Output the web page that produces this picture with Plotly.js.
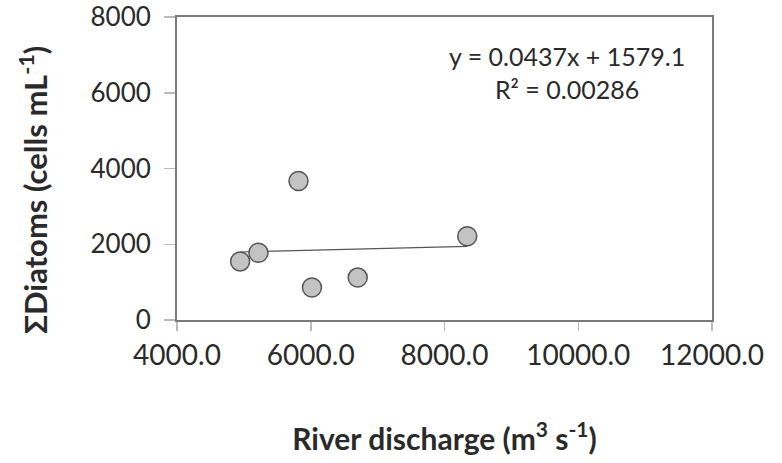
<!DOCTYPE html>
<html><head><meta charset="utf-8">
<script src="https://cdn.plot.ly/plotly-3.0.1.min.js"></script>
<style>html,body{margin:0;padding:0;background:#fff}#chart{width:782px;height:463px}</style>
</head><body><div id="chart"></div>
<script>
const discharge = [4944, 5218, 5817, 6018, 6702, 8340];
const diatoms = [1547, 1775, 3670, 857, 1119, 2210];
const trendX = [4944, 8340];
const trendY = [1795, 1943];
const xTicks = [4000, 6000, 8000, 10000, 12000];
const xTickLabels = ['4000.0', '6000.0', '8000.0', '10000.0', '12000.0'];
const yTicks = [0, 2000, 4000, 6000, 8000];
const yTickLabels = ['0', '2000', '4000', '6000', '8000'];
const equationText = 'y = 0.0437x + 1579.1<br>R² = 0.00286';
const xTitle = '<b>River discharge (m<sup>3</sup> s<sup>-1</sup>)</b>';
const yTitle = '<b>ΣDiatoms (cells mL<sup>-1</sup>)</b>';

const font = 'Lato, "Open Sans", sans-serif';
const ink = '#2a2a2a';
const data = [
  {x: trendX, y: trendY, mode: 'lines', type: 'scatter', line: {color: '#555', width: 1.2}, hoverinfo: 'skip'},
  {x: discharge, y: diatoms, mode: 'markers', type: 'scatter',
   marker: {size: 19, color: '#c3c3c3', line: {color: '#555', width: 1.5}}}
];
const layout = {
  width: 782, height: 463,
  margin: {l: 177, r: 70, t: 17, b: 143},
  showlegend: false,
  paper_bgcolor: '#fff', plot_bgcolor: '#fff',
  font: {family: font, color: ink},
  xaxis: {
    range: [4000, 12000], tickvals: xTicks, ticktext: xTickLabels,
    showgrid: false, zeroline: false, showline: true, linecolor: '#7a7a7a', linewidth: 2, mirror: true,
    ticks: 'outside', ticklen: 9, tickcolor: '#bbb', tickwidth: 1.5,
    tickfont: {size: 28, family: font, color: ink},
    title: {text: xTitle, font: {size: 30, family: font, color: ink}, standoff: 59}
  },
  yaxis: {
    range: [0, 8000], tickvals: yTicks, ticktext: yTickLabels,
    showgrid: false, zeroline: false, showline: true, linecolor: '#7a7a7a', linewidth: 2, mirror: true,
    ticks: 'outside', ticklen: 11, tickcolor: '#bbb', tickwidth: 1.5, ticklabelstandoff: 8,
    ticklabeloverflow: 'allow',
    tickfont: {size: 26, family: font, color: ink}
  },
  annotations: [{
    xref: 'paper', yref: 'paper', x: 0.729, y: 0.816, xanchor: 'center', yanchor: 'middle',
    text: equationText, showarrow: false, align: 'center',
    font: {size: 25, family: font, color: ink}
  }, {
    xref: 'paper', yref: 'paper', x: (33 - 177) / 535, y: (320 - 190) / 303,
    xanchor: 'center', yanchor: 'middle', textangle: -90,
    text: yTitle, showarrow: false,
    font: {size: 31, family: font, color: ink}
  }]
};
Plotly.newPlot('chart', data, layout, {displayModeBar: false, staticPlot: true});
</script></body></html>
